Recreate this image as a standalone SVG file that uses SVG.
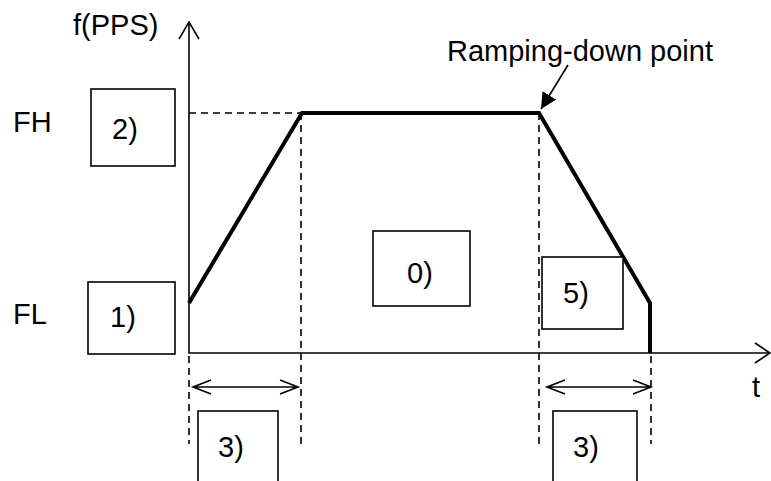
<svg xmlns="http://www.w3.org/2000/svg" width="771" height="481" viewBox="0 0 771 481">
<style>
text{font-family:"Liberation Sans",Arial,sans-serif;font-size:29px;fill:#000}
.box{fill:#fff;stroke:#000;stroke-width:1.6}
.ax{fill:none;stroke:#000;stroke-width:1.6}
.dash{fill:none;stroke:#000;stroke-width:1.6;stroke-dasharray:7 5}
.thick{fill:none;stroke:#000;stroke-width:4;stroke-linejoin:miter}
.open{fill:none;stroke:#000;stroke-width:1.6}
</style>
<defs>
<marker id="fa" viewBox="0 0 10 10" refX="10" refY="5" markerWidth="16" markerHeight="16" markerUnits="userSpaceOnUse" orient="auto">
<path d="M0,0 L10,5 L0,10 Z" fill="#000"/>
</marker>
</defs>
<rect width="771" height="481" fill="#fff"/>
<g id="connectors">
<path class="ax" d="M189,22 V353 H770"/>
<path class="open" d="M179,39 L189,22 L199,39"/>
<path class="open" d="M755,343 L770,353 L755,363"/>
<path class="dash" d="M189,113 H302"/>
<path class="dash" d="M189,356 V444"/>
<path class="dash" d="M301,113 V444"/>
<path class="dash" d="M539,113 V444"/>
<path class="dash" d="M651,356 V444"/>
<path class="thick" d="M189,303 L302,113 H539 L650,303 V353"/>
<path class="open" d="M193,387 H298 M211,380 L193,387 L211,394 M280,380 L298,387 L280,394"/>
<path class="open" d="M547,387 H651 M565,380 L547,387 L565,394 M633,380 L651,387 L633,394"/>
<path class="ax" d="M568,65 L541,109" marker-end="url(#fa)"/>
</g>
<g id="axis-labels">
<text x="73" y="35">f(PPS)</text>
<text x="13" y="132">FH</text>
<text x="13" y="324">FL</text>
<text x="752" y="397">t</text>
<text x="447" y="61">Ramping-down point</text>
</g>
<g id="node-2"><rect class="box" x="91" y="89" width="84" height="77"/><text x="112" y="139">2)</text></g>
<g id="node-1"><rect class="box" x="88" y="282" width="87" height="72"/><text x="110" y="327">1)</text></g>
<g id="node-0"><rect class="box" x="373" y="231" width="97" height="75"/><text x="407" y="283">0)</text></g>
<g id="node-5"><rect class="box" x="542" y="257" width="81" height="72"/><text x="563" y="303">5)</text></g>
<g id="node-3a"><rect class="box" x="198" y="411" width="80" height="80"/><text x="218" y="457">3)</text></g>
<g id="node-3b"><rect class="box" x="553" y="411" width="84" height="80"/><text x="573" y="457">3)</text></g>
</svg>
